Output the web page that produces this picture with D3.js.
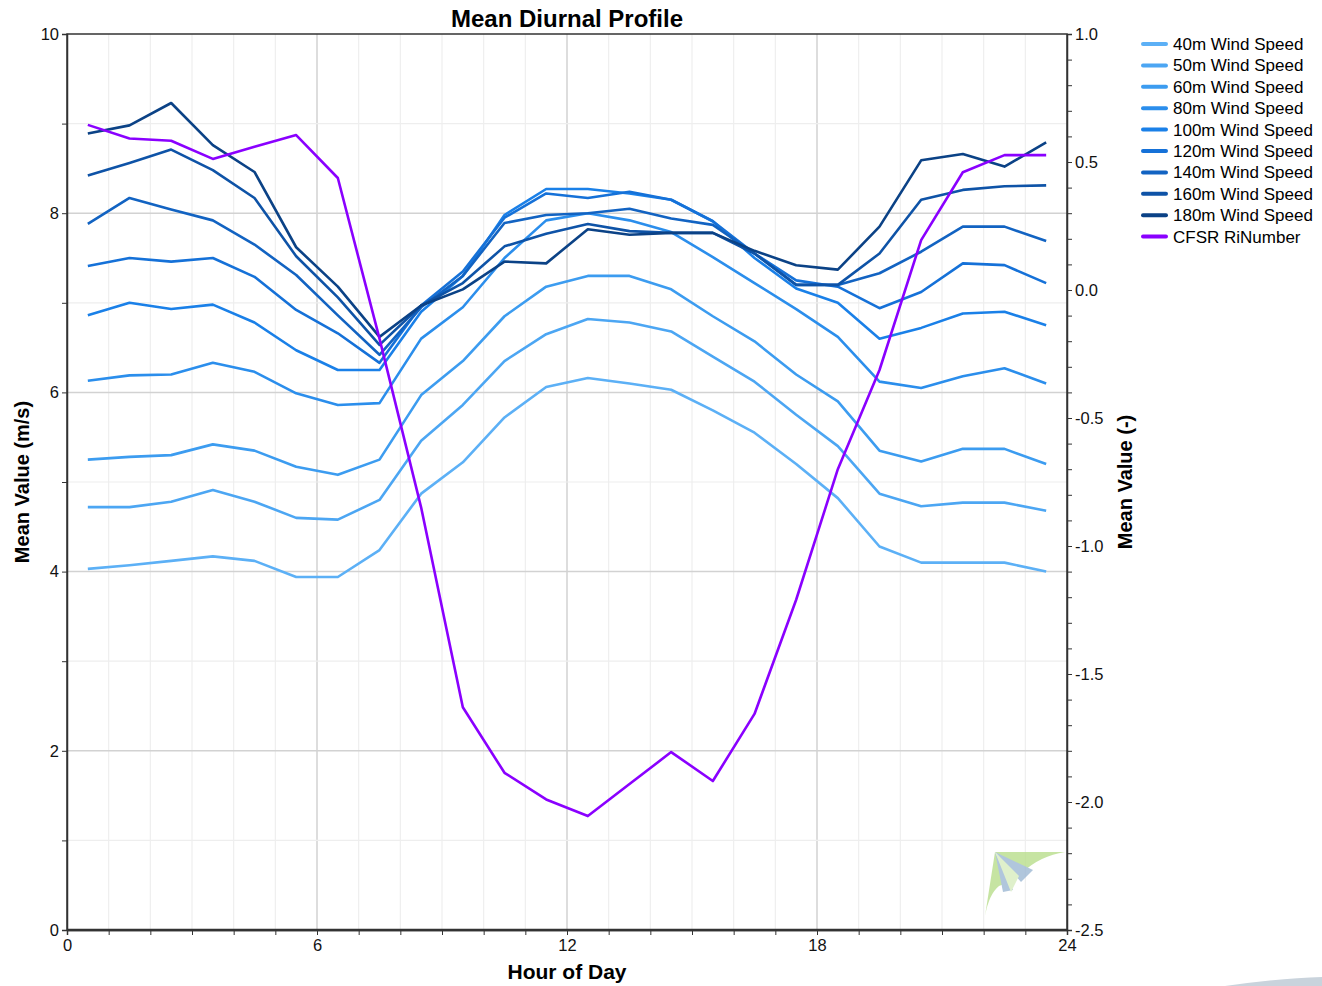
<!DOCTYPE html>
<html>
<head>
<meta charset="utf-8">
<script src="https://cdn.jsdelivr.net/npm/d3@7"></script>
<style>
  body { margin: 0; background: #fff; font-family: 'Liberation Sans', Arial, sans-serif; }
  svg { display: block; }
  .axis path, .axis line { stroke: #333; }
  .axis text { font-size: 16.5px; fill: #111; }
</style>
</head>
<body>
<svg id="chart"></svg>
<script>
const hours = d3.range(0.5, 24, 1);

const ws40 = [4.03, 4.07, 4.12, 4.17, 4.12, 3.94, 3.94, 4.24, 4.87, 5.22, 5.72, 6.06, 6.16, 6.10, 6.03, 5.80, 5.55, 5.20, 4.82, 4.28, 4.10, 4.10, 4.10, 4.00];
const ws50 = [4.72, 4.72, 4.78, 4.91, 4.78, 4.60, 4.58, 4.80, 5.46, 5.86, 6.35, 6.65, 6.82, 6.78, 6.68, 6.40, 6.12, 5.75, 5.40, 4.87, 4.73, 4.77, 4.77, 4.68];
const ws60 = [5.25, 5.28, 5.30, 5.42, 5.35, 5.17, 5.08, 5.25, 5.97, 6.35, 6.85, 7.18, 7.30, 7.30, 7.15, 6.85, 6.57, 6.20, 5.90, 5.35, 5.23, 5.37, 5.37, 5.20];
const ws80 = [6.13, 6.19, 6.20, 6.33, 6.23, 5.99, 5.86, 5.88, 6.60, 6.95, 7.50, 7.92, 8.00, 7.92, 7.79, 7.51, 7.22, 6.93, 6.62, 6.12, 6.05, 6.18, 6.27, 6.10];
const ws100 = [6.86, 7.00, 6.93, 6.98, 6.78, 6.47, 6.25, 6.25, 6.90, 7.30, 7.98, 8.27, 8.27, 8.22, 8.15, 7.91, 7.50, 7.16, 7.00, 6.60, 6.72, 6.88, 6.90, 6.75];
const ws120 = [7.41, 7.50, 7.46, 7.50, 7.29, 6.92, 6.66, 6.33, 6.97, 7.35, 7.95, 8.22, 8.17, 8.24, 8.15, 7.91, 7.55, 7.25, 7.18, 6.94, 7.12, 7.44, 7.42, 7.22];
const ws140 = [7.88, 8.17, 8.04, 7.92, 7.65, 7.31, 6.86, 6.42, 6.95, 7.30, 7.89, 7.98, 8.00, 8.05, 7.94, 7.87, 7.55, 7.20, 7.20, 7.33, 7.57, 7.85, 7.85, 7.69];
const ws160 = [8.42, 8.56, 8.71, 8.48, 8.17, 7.52, 7.06, 6.53, 6.97, 7.22, 7.63, 7.77, 7.88, 7.80, 7.78, 7.78, 7.55, 7.20, 7.20, 7.55, 8.15, 8.26, 8.30, 8.31];
const ws180 = [8.89, 8.98, 9.23, 8.76, 8.46, 7.62, 7.18, 6.62, 6.97, 7.15, 7.46, 7.44, 7.82, 7.76, 7.78, 7.78, 7.58, 7.42, 7.37, 7.85, 8.59, 8.66, 8.52, 8.79];
const riNumber = [0.645, 0.592, 0.583, 0.512, 0.56, 0.605, 0.4375, -0.19, -0.85, -1.63, -1.886, -1.99, -2.055, -1.93, -1.805, -1.918, -1.656, -1.21, -0.70, -0.3125, 0.195, 0.46, 0.527, 0.527];

const seriesNames = ['40m Wind Speed', '50m Wind Speed', '60m Wind Speed', '80m Wind Speed', '100m Wind Speed',
  '120m Wind Speed', '140m Wind Speed', '160m Wind Speed', '180m Wind Speed', 'CFSR RiNumber'];
const seriesValues = [ws40, ws50, ws60, ws80, ws100, ws120, ws140, ws160, ws180, riNumber];
const seriesColors = ['#5cb0f6', '#4ca6f3', '#3c9cf0', '#2b8eec', '#1a80e8', '#1571d8', '#1263c2', '#0e53a7', '#0b4286', '#8a00ff'];

const xTickLabels = [0, 6, 12, 18, 24];
const yLeftTickLabels = [0, 2, 4, 6, 8, 10];
const yRightTickLabels = [-2.5, -2.0, -1.5, -1.0, -0.5, 0.0, 0.5, 1.0];

class DiurnalChart {
  constructor(_config) {
    this.config = {
      parentElement: _config.parentElement,
      containerWidth: 1322,
      containerHeight: 986,
      margin: { top: 34, right: 255, bottom: 56, left: 67 }
    };
    this.initVis();
  }

  initVis() {
    let vis = this;
    const m = vis.config.margin;
    vis.width = vis.config.containerWidth - m.left - m.right;
    vis.height = vis.config.containerHeight - m.top - m.bottom;

    vis.xScale = d3.scaleLinear().domain([0, 24]).range([0, vis.width]);
    vis.yScale = d3.scaleLinear().domain([0, 10]).range([vis.height, 0]);
    vis.y2Scale = d3.scaleLinear().domain([-2.5, 1.0]).range([vis.height, 0]);

    vis.svg = d3.select(vis.config.parentElement)
      .attr('width', vis.config.containerWidth)
      .attr('height', vis.config.containerHeight);

    vis.chart = vis.svg.append('g')
      .attr('transform', `translate(${m.left},${m.top})`);

    // grid: minor every hour / 1 m/s, major every 6 h / 2 m/s
    const grid = vis.chart.append('g').attr('class', 'grid');
    grid.selectAll('.vminor')
      .data(d3.range(1, 24))
      .join('line')
      .attr('x1', d => vis.xScale(d)).attr('x2', d => vis.xScale(d))
      .attr('y1', 0).attr('y2', vis.height)
      .attr('stroke', d => d % 6 === 0 ? '#d2d2d2' : '#eeeeee')
      .attr('stroke-width', d => d % 6 === 0 ? 1.5 : 1.2);
    grid.selectAll('.hminor')
      .data(d3.range(1, 10))
      .join('line')
      .attr('x1', 0).attr('x2', vis.width)
      .attr('y1', d => vis.yScale(d)).attr('y2', d => vis.yScale(d))
      .attr('stroke', d => d % 2 === 0 ? '#d2d2d2' : '#eeeeee')
      .attr('stroke-width', d => d % 2 === 0 ? 1.5 : 1.2);

    // logo watermark
    const logo = vis.chart.append('g')
      .attr('transform', `translate(${vis.width - 82},${vis.height - 80})`)
      .attr('opacity', 0.8);
    logo.append('path').attr('d', 'M10,2 L80,2 Q55,6 38,22 L22,12 Z').attr('fill', '#b9de8c');
    logo.append('path').attr('d', 'M10,2 L0,66 Q4,44 14,36 L24,32 Z').attr('fill', '#b9de8c');
    logo.append('path').attr('d', 'M10,2 L48,20 L36,32 Z').attr('fill', '#9db8d4');
    logo.append('path').attr('d', 'M10,2 L28,40 L18,42 Z').attr('fill', '#9db8d4');
    logo.append('path').attr('d', 'M10,2 L34,26 L26,42 Z').attr('fill', '#d8edbf');

    vis.linesG = vis.chart.append('g');

    vis.xAxisG = vis.chart.append('g')
      .attr('class', 'axis x-axis')
      .attr('transform', `translate(0,${vis.height})`);
    vis.yAxisG = vis.chart.append('g').attr('class', 'axis y-axis');
    vis.y2AxisG = vis.chart.append('g')
      .attr('class', 'axis y2-axis')
      .attr('transform', `translate(${vis.width},0)`);

    // frame
    vis.chart.append('rect')
      .attr('width', vis.width).attr('height', vis.height)
      .attr('fill', 'none').attr('stroke', '#333').attr('stroke-width', 1.5);
    vis.chart.append('line')
      .attr('x1', 0).attr('x2', vis.width)
      .attr('y1', vis.height).attr('y2', vis.height)
      .attr('stroke', '#333').attr('stroke-width', 2.5);

    vis.svg.append('text')
      .text('Mean Diurnal Profile')
      .attr('x', m.left + vis.width / 2).attr('y', 27)
      .attr('text-anchor', 'middle')
      .style('font-weight', 'bold').style('font-size', '24px');

    vis.svg.append('text')
      .text('Hour of Day')
      .attr('x', m.left + vis.width / 2).attr('y', 979)
      .attr('text-anchor', 'middle')
      .style('font-weight', 'bold').style('font-size', '21px');

    vis.svg.append('text')
      .text('Mean Value (m/s)')
      .attr('transform', `translate(29,${m.top + vis.height / 2}) rotate(-90)`)
      .attr('text-anchor', 'middle')
      .style('font-weight', 'bold').style('font-size', '20px');

    vis.svg.append('text')
      .text('Mean Value (-)')
      .attr('transform', `translate(1132,${m.top + vis.height / 2}) rotate(-90)`)
      .attr('text-anchor', 'middle')
      .style('font-weight', 'bold').style('font-size', '20px');

    // faint swoosh at bottom right corner
    vis.svg.append('path')
      .attr('d', 'M1225,986 Q1280,978 1322,977 L1322,986 Z')
      .attr('fill', '#c9d3dc');

    vis.updateVis();
  }

  updateVis() {
    let vis = this;
    vis.data = seriesNames.map((name, i) => ({
      name: name,
      color: seriesColors[i],
      right: i === seriesNames.length - 1,
      values: hours.map((h, j) => ({ hour: h, value: seriesValues[i][j] }))
    }));
    vis.renderVis();
  }

  renderVis() {
    let vis = this;

    const lineLeft = d3.line().x(d => vis.xScale(d.hour)).y(d => vis.yScale(d.value));
    const lineRight = d3.line().x(d => vis.xScale(d.hour)).y(d => vis.y2Scale(d.value));

    vis.linesG.selectAll('path')
      .data(vis.data)
      .join('path')
      .attr('fill', 'none')
      .attr('stroke', d => d.color)
      .attr('stroke-width', 2.6)
      .attr('stroke-linejoin', 'round')
      .attr('d', d => d.right ? lineRight(d.values) : lineLeft(d.values));

    vis.xAxisG.call(d3.axisBottom(vis.xScale)
      .tickValues(d3.range(0, 25))
      .tickSize(5)
      .tickFormat(d => xTickLabels.includes(d) ? d : ''));
    vis.xAxisG.selectAll('text').attr('dy', '0.8em');

    vis.yAxisG.call(d3.axisLeft(vis.yScale)
      .tickValues(d3.range(0, 11))
      .tickSize(5)
      .tickFormat(d => yLeftTickLabels.includes(d) ? d : ''));

    vis.y2AxisG.call(d3.axisRight(vis.y2Scale)
      .tickValues(d3.range(-25, 11).map(d => d / 10))
      .tickSize(5)
      .tickFormat(d => yRightTickLabels.some(v => Math.abs(v - d) < 1e-9) ? d3.format('.1f')(d).replace('\u2212', '-') : ''));

    vis.chart.selectAll('.axis .domain').attr('stroke-width', 1.5);

    // legend
    const legend = vis.svg.append('g')
      .attr('transform', 'translate(1143,44)');
    const item = legend.selectAll('g')
      .data(vis.data)
      .join('g')
      .attr('transform', (d, i) => `translate(0,${i * 21.4})`);
    item.append('line')
      .attr('x1', 0).attr('x2', 23)
      .attr('stroke', d => d.color)
      .attr('stroke-width', 4)
      .attr('stroke-linecap', 'round');
    item.append('text')
      .attr('x', 30).attr('dy', '0.35em')
      .style('font-size', '17px')
      .text(d => d.name);
  }
}

const chart = new DiurnalChart({ parentElement: '#chart' });
</script>
</body>
</html>
